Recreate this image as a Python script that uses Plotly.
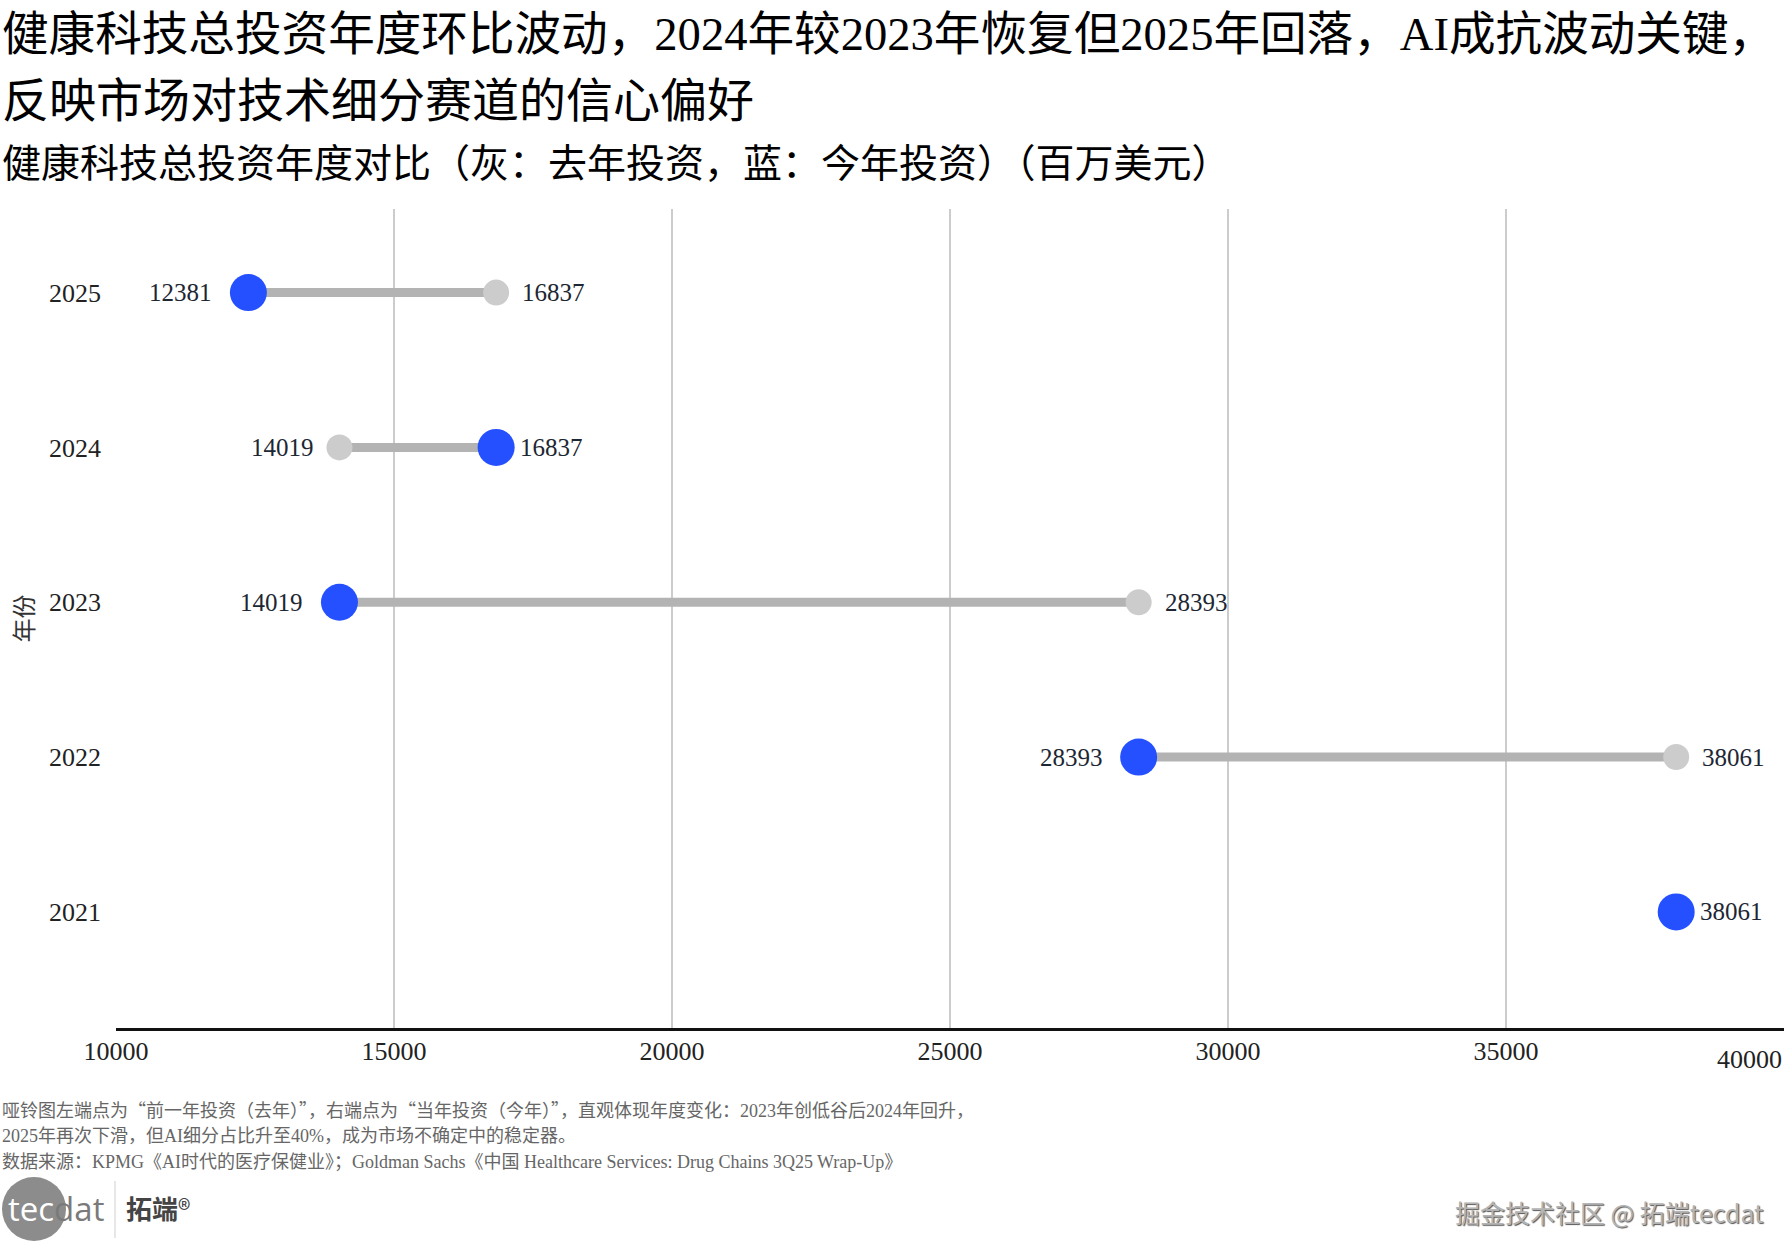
import plotly.graph_objects as go

# ---------------- data ----------------
years = ["2021", "2022", "2023", "2024", "2025"]
this_year = [38061, 28393, 14019, 16837, 12381]      # 今年投资 (blue)
last_year = [None, 38061, 28393, 14019, 16837]       # 去年投资 (grey)
x_ticks = [10000, 15000, 20000, 25000, 30000, 35000, 40000]

title_line1 = "健康科技总投资年度环比波动，2024年较2023年恢复但2025年回落，AI成抗波动关键，"
title_line2 = "反映市场对技术细分赛道的信心偏好"
subtitle = "健康科技总投资年度对比（灰：去年投资，蓝：今年投资）（百万美元）"
notes = [
    "哑铃图左端点为“前一年投资（去年）”，右端点为“当年投资（今年）”，直观体现年度变化：2023年创低谷后2024年回升，",
    "2025年再次下滑，但AI细分占比升至40%，成为市场不确定中的稳定器。",
    "数据来源：KPMG《AI时代的医疗保健业》；Goldman Sachs《中国 Healthcare Services: Drug Chains 3Q25 Wrap-Up》",
]

# ---------------- layout geometry (pixels) ----------------
W, H = 1788, 1253
L, R, T, B = 116, 1784, 209, 1028


def px(x):
    return (x - L) / (R - L)


def py(y):
    return (B - y) / (B - T)


SERIF = "Liberation Serif, Noto Sans CJK SC, serif"
SANS = "Noto Sans CJK SC, Noto Sans, sans-serif"
BLUE = "#2450FF"
GREY_DOT = "#CCCCCC"
GREY_LINE = "#B3B3B3"
LABEL_C = "#1d2733"
LABEL_FONT = dict(family=SERIF, size=25, color=LABEL_C)

fig = go.Figure()

# connecting lines
lx, ly = [], []
for yr, t, l in zip(years, this_year, last_year):
    if l is None:
        continue
    lx += [l, t, None]
    ly += [yr, yr, None]
fig.add_trace(go.Scatter(x=lx, y=ly, mode="lines",
                         line=dict(color=GREY_LINE, width=9),
                         hoverinfo="skip", showlegend=False))

# grey (last year) dots
gx = [l for l in last_year if l is not None]
gy = [yr for yr, l in zip(years, last_year) if l is not None]
fig.add_trace(go.Scatter(x=gx, y=gy, mode="markers",
                         marker=dict(color=GREY_DOT, size=26),
                         showlegend=False))

# blue (this year) dots
fig.add_trace(go.Scatter(x=this_year, y=years, mode="markers",
                         marker=dict(color=BLUE, size=37),
                         showlegend=False))

annotations = []
# value labels (left of the smaller end, right of the larger end)
for i, (t, l) in enumerate(zip(this_year, last_year)):
    t_right = (l is None) or (t > l)
    annotations.append(dict(x=t, y=i, xref="x", yref="y", text=str(t), showarrow=False,
                            xanchor="left" if t_right else "right",
                            xshift=22 if t_right else -34, font=LABEL_FONT))
    if l is not None:
        annotations.append(dict(x=l, y=i, xref="x", yref="y", text=str(l), showarrow=False,
                                xanchor="right" if t_right else "left",
                                xshift=-23 if t_right else 24, font=LABEL_FONT))

# titles
annotations.append(dict(text=title_line1, xref="paper", yref="paper", x=px(0), y=py(34),
                        xanchor="left", yanchor="middle", showarrow=False,
                        font=dict(family=SERIF, size=46.6, color="#000000")))
annotations.append(dict(text=title_line2, xref="paper", yref="paper", x=px(0), y=py(101),
                        xanchor="left", yanchor="middle", showarrow=False,
                        font=dict(family=SERIF, size=47, color="#000000")))
annotations.append(dict(text=subtitle, xref="paper", yref="paper", x=px(0), y=py(164),
                        xanchor="left", yanchor="middle", showarrow=False,
                        font=dict(family=SERIF, size=39, color="#000000")))
# last x tick label (right aligned at the edge, slightly lower)
annotations.append(dict(text=str(x_ticks[-1]), xref="x", yref="paper", x=x_ticks[-1], y=0,
                        xanchor="right", yanchor="top", yshift=-15, showarrow=False,
                        font=dict(family=SERIF, size=26, color="#222222")))
# notes (curly quotes drawn with the CJK font)
Q = "<span style=\"font-family:'Noto Sans CJK SC'\">{}</span>"
for txt, yy in zip(notes, [1109, 1136, 1162]):
    txt = txt.replace("“", Q.format("“")).replace("”", Q.format("”"))
    annotations.append(dict(text=txt, xref="paper", yref="paper", x=px(0), y=py(yy),
                            xanchor="left", yanchor="middle", showarrow=False,
                            font=dict(family=SERIF, size=18, color="#666666")))
# logo
annotations.append(dict(text="<span style='color:#ffffff'>tec</span>dat", xref="paper", yref="paper",
                        x=px(6), y=py(1208), xanchor="left", yanchor="middle", showarrow=False,
                        font=dict(family="Open Sans, Noto Sans, sans-serif", size=33, color="#7a7a7a")))
annotations.append(dict(text="<b>拓端</b>®", xref="paper", yref="paper",
                        x=px(124), y=py(1207), xanchor="left", yanchor="middle", showarrow=False,
                        font=dict(family=SANS, size=26, color="#444444")))
# watermark
annotations.append(dict(text="掘金技术社区 @ 拓端tecdat", xref="paper", yref="paper",
                        x=px(1766), y=py(1212), xanchor="right", yanchor="middle", showarrow=False,
                        font=dict(family=SANS, size=25, color="#b4b4b4",
                                  shadow="1px 1px 1px #555555")))

shapes = [
    dict(type="circle", xref="paper", yref="paper", xsizemode="pixel", ysizemode="pixel",
         xanchor=px(34), yanchor=py(1209), x0=-32, x1=32, y0=-32, y1=32,
         fillcolor="#8c8c8c", line=dict(width=0), layer="below"),
    dict(type="line", xref="paper", yref="paper", x0=px(115), x1=px(115), y0=py(1181), y1=py(1238),
         line=dict(color="#cfcfcf", width=1)),
]

fig.update_layout(
    width=W, height=H,
    margin=dict(l=L, r=W - R, t=T, b=H - B, autoexpand=False),
    paper_bgcolor="white", plot_bgcolor="white",
    showlegend=False,
    annotations=annotations,
    shapes=shapes,
    font=dict(family=SERIF, color="#222222"),
)
fig.update_xaxes(
    range=[x_ticks[0], x_ticks[-1]],
    tickvals=x_ticks,
    ticktext=[str(v) for v in x_ticks[:-1]] + [""],
    tickfont=dict(family=SERIF, size=26, color="#222222"),
    showgrid=True, gridcolor="#CCCCCC", gridwidth=2,
    showline=True, linecolor="#111111", linewidth=3,
    zeroline=False, ticks="", ticklabelstandoff=-2,
    automargin=False,
)
fig.update_yaxes(
    type="category", categoryorder="array", categoryarray=years,
    range=[-0.75, 4.54],
    showgrid=False, showline=False, zeroline=False, ticks="",
    tickfont=dict(family=SERIF, size=26, color="#222222"),
    ticklabelstandoff=14,
    title=dict(text="年份", font=dict(family=SERIF, size=24, color="#333333"), standoff=8),
    automargin=False,
)

fig.write_html("out.html", config={"displayModeBar": False},
               post_script="document.body.style.margin='0px';")
